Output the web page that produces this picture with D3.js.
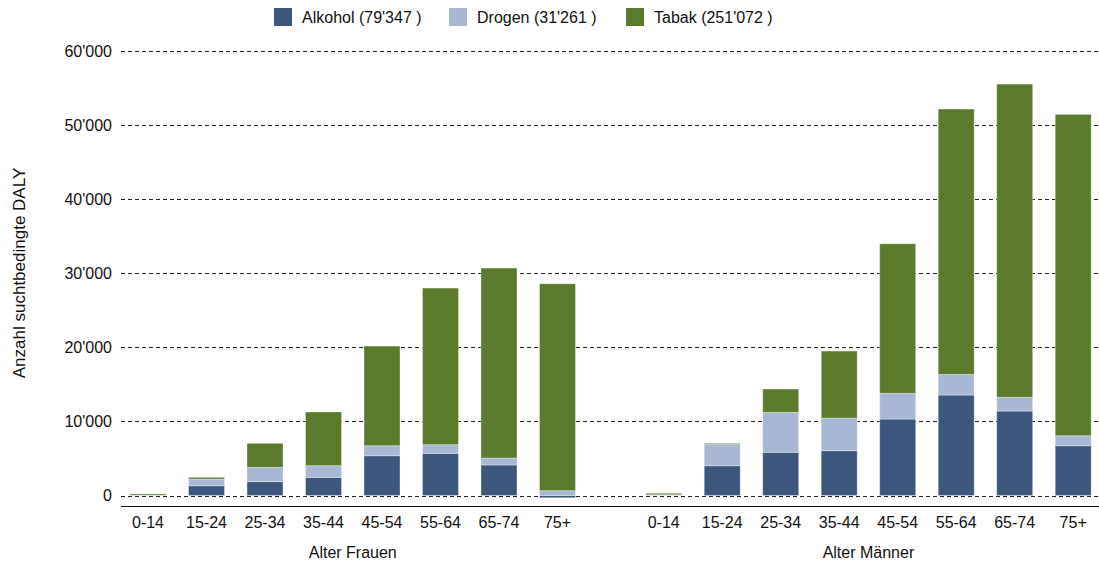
<!DOCTYPE html>
<html>
<head>
<meta charset="utf-8">
<script src="https://cdn.jsdelivr.net/npm/d3@7"></script>
<style>
  body { margin: 0; background: #fff; }
  text { font-family: "Liberation Sans", Arial, sans-serif; fill: #111; }
</style>
</head>
<body>
<div id="chart"></div>
<script>
var ages = ["0-14", "15-24", "25-34", "35-44", "45-54", "55-64", "65-74", "75+"];
var keys = ["Alkohol", "Drogen", "Tabak"];
var legendLabels = ["Alkohol (79'347 )", "Drogen (31'261 )", "Tabak (251'072 )"];
var colors = ["#3c567d", "#a7b7d4", "#5b7a2b"];

// Frauen
var womenAlkohol = [20, 1320, 1870, 2450, 5370, 5690, 4120, -300];
var womenDrogen  = [30, 900, 1930, 1580, 1350, 1170, 940, 650];
var womenTabak   = [170, 230, 3240, 7240, 13450, 21140, 25640, 27930];
// Männer
var menAlkohol = [30, 4020, 5830, 6050, 10320, 13560, 11400, 6720];
var menDrogen  = [80, 2880, 5390, 4410, 3470, 2790, 1850, 1350];
var menTabak   = [190, 140, 3150, 9040, 20190, 35810, 42280, 43370];

var yTicks = [0, 10000, 20000, 30000, 40000, 50000, 60000];

var W = 1099, H = 564;
var svg = d3.select("#chart").append("svg").attr("width", W).attr("height", H);

var y = d3.scaleLinear().domain([0, 60000]).range([495.5, 51]);

function rows(alk, dro, tab) {
    return ages.map(function(a, i) {
        return { age: a, Alkohol: alk[i], Drogen: dro[i], Tabak: tab[i] };
    });
}

var groups = [
    { label: "Alter Frauen", data: rows(womenAlkohol, womenDrogen, womenTabak), range: [107.5, 598] },
    { label: "Alter Männer", data: rows(menAlkohol, menDrogen, menTabak), range: [623.2, 1113.7] }
];

// grid lines
svg.append("g").selectAll("line")
    .data(yTicks)
    .enter().append("line")
        .attr("x1", 121).attr("x2", W)
        .attr("y1", function(d) { return Math.round(y(d)) + 0.5; })
        .attr("y2", function(d) { return Math.round(y(d)) + 0.5; })
        .attr("stroke", "#222")
        .attr("stroke-width", 1)
        .attr("stroke-dasharray", "4,3");

// y labels
svg.append("g").selectAll("text")
    .data(yTicks)
    .enter().append("text")
        .attr("x", 112)
        .attr("y", function(d) { return y(d); })
        .attr("dy", "0.35em")
        .attr("text-anchor", "end")
        .style("font-size", "16px")
        .text(function(d) { return d3.format(",")(d).replace(/,/g, "'"); });

svg.append("text")
    .attr("transform", "translate(25,273) rotate(-90)")
    .attr("text-anchor", "middle")
    .style("font-size", "17px")
    .text("Anzahl suchtbedingte DALY");

var stack = d3.stack().keys(keys).offset(d3.stackOffsetDiverging);

groups.forEach(function(g) {
    var x = d3.scaleBand().domain(ages).range(g.range).paddingInner(0.385).paddingOuter(0.385);
    var series = stack(g.data);

    svg.append("g").selectAll("g")
        .data(series)
        .enter().append("g")
            .attr("fill", function(d, i) { return colors[i]; })
            .selectAll("rect")
            .data(function(d) { return d; })
            .enter().append("rect")
                .attr("x", function(d) { return x(d.data.age); })
                .attr("y", function(d) { return y(Math.max(d[0], d[1])); })
                .attr("width", x.bandwidth())
                .attr("height", function(d) { return Math.abs(y(d[0]) - y(d[1])); })
                .attr("stroke", "rgba(255,255,255,0.35)")
                .attr("stroke-width", 1);

    svg.append("g").selectAll("text")
        .data(ages)
        .enter().append("text")
            .attr("x", function(d) { return x(d) + x.bandwidth() / 2; })
            .attr("y", 528)
            .attr("text-anchor", "middle")
            .style("font-size", "16px")
            .text(function(d) { return d; });

    svg.append("text")
        .attr("x", (x(ages[0]) + x(ages[7]) + x.bandwidth()) / 2)
        .attr("y", 558)
        .attr("text-anchor", "middle")
        .style("font-size", "16px")
        .text(g.label);
});

// baseline
svg.append("line")
    .attr("x1", 121).attr("x2", W)
    .attr("y1", 506.5).attr("y2", 506.5)
    .attr("stroke", "#111").attr("stroke-width", 1.2);

// legend
var legendX = [274, 449, 626];
var legend = svg.append("g").selectAll("g")
    .data(keys)
    .enter().append("g")
        .attr("transform", function(d, i) { return "translate(" + legendX[i] + ",8)"; });
legend.append("rect")
    .attr("width", 18).attr("height", 18)
    .attr("fill", function(d, i) { return colors[i]; });
legend.append("text")
    .attr("x", 28).attr("y", 9).attr("dy", "0.35em")
    .style("font-size", "16px")
    .text(function(d, i) { return legendLabels[i]; });
</script>
</body>
</html>
